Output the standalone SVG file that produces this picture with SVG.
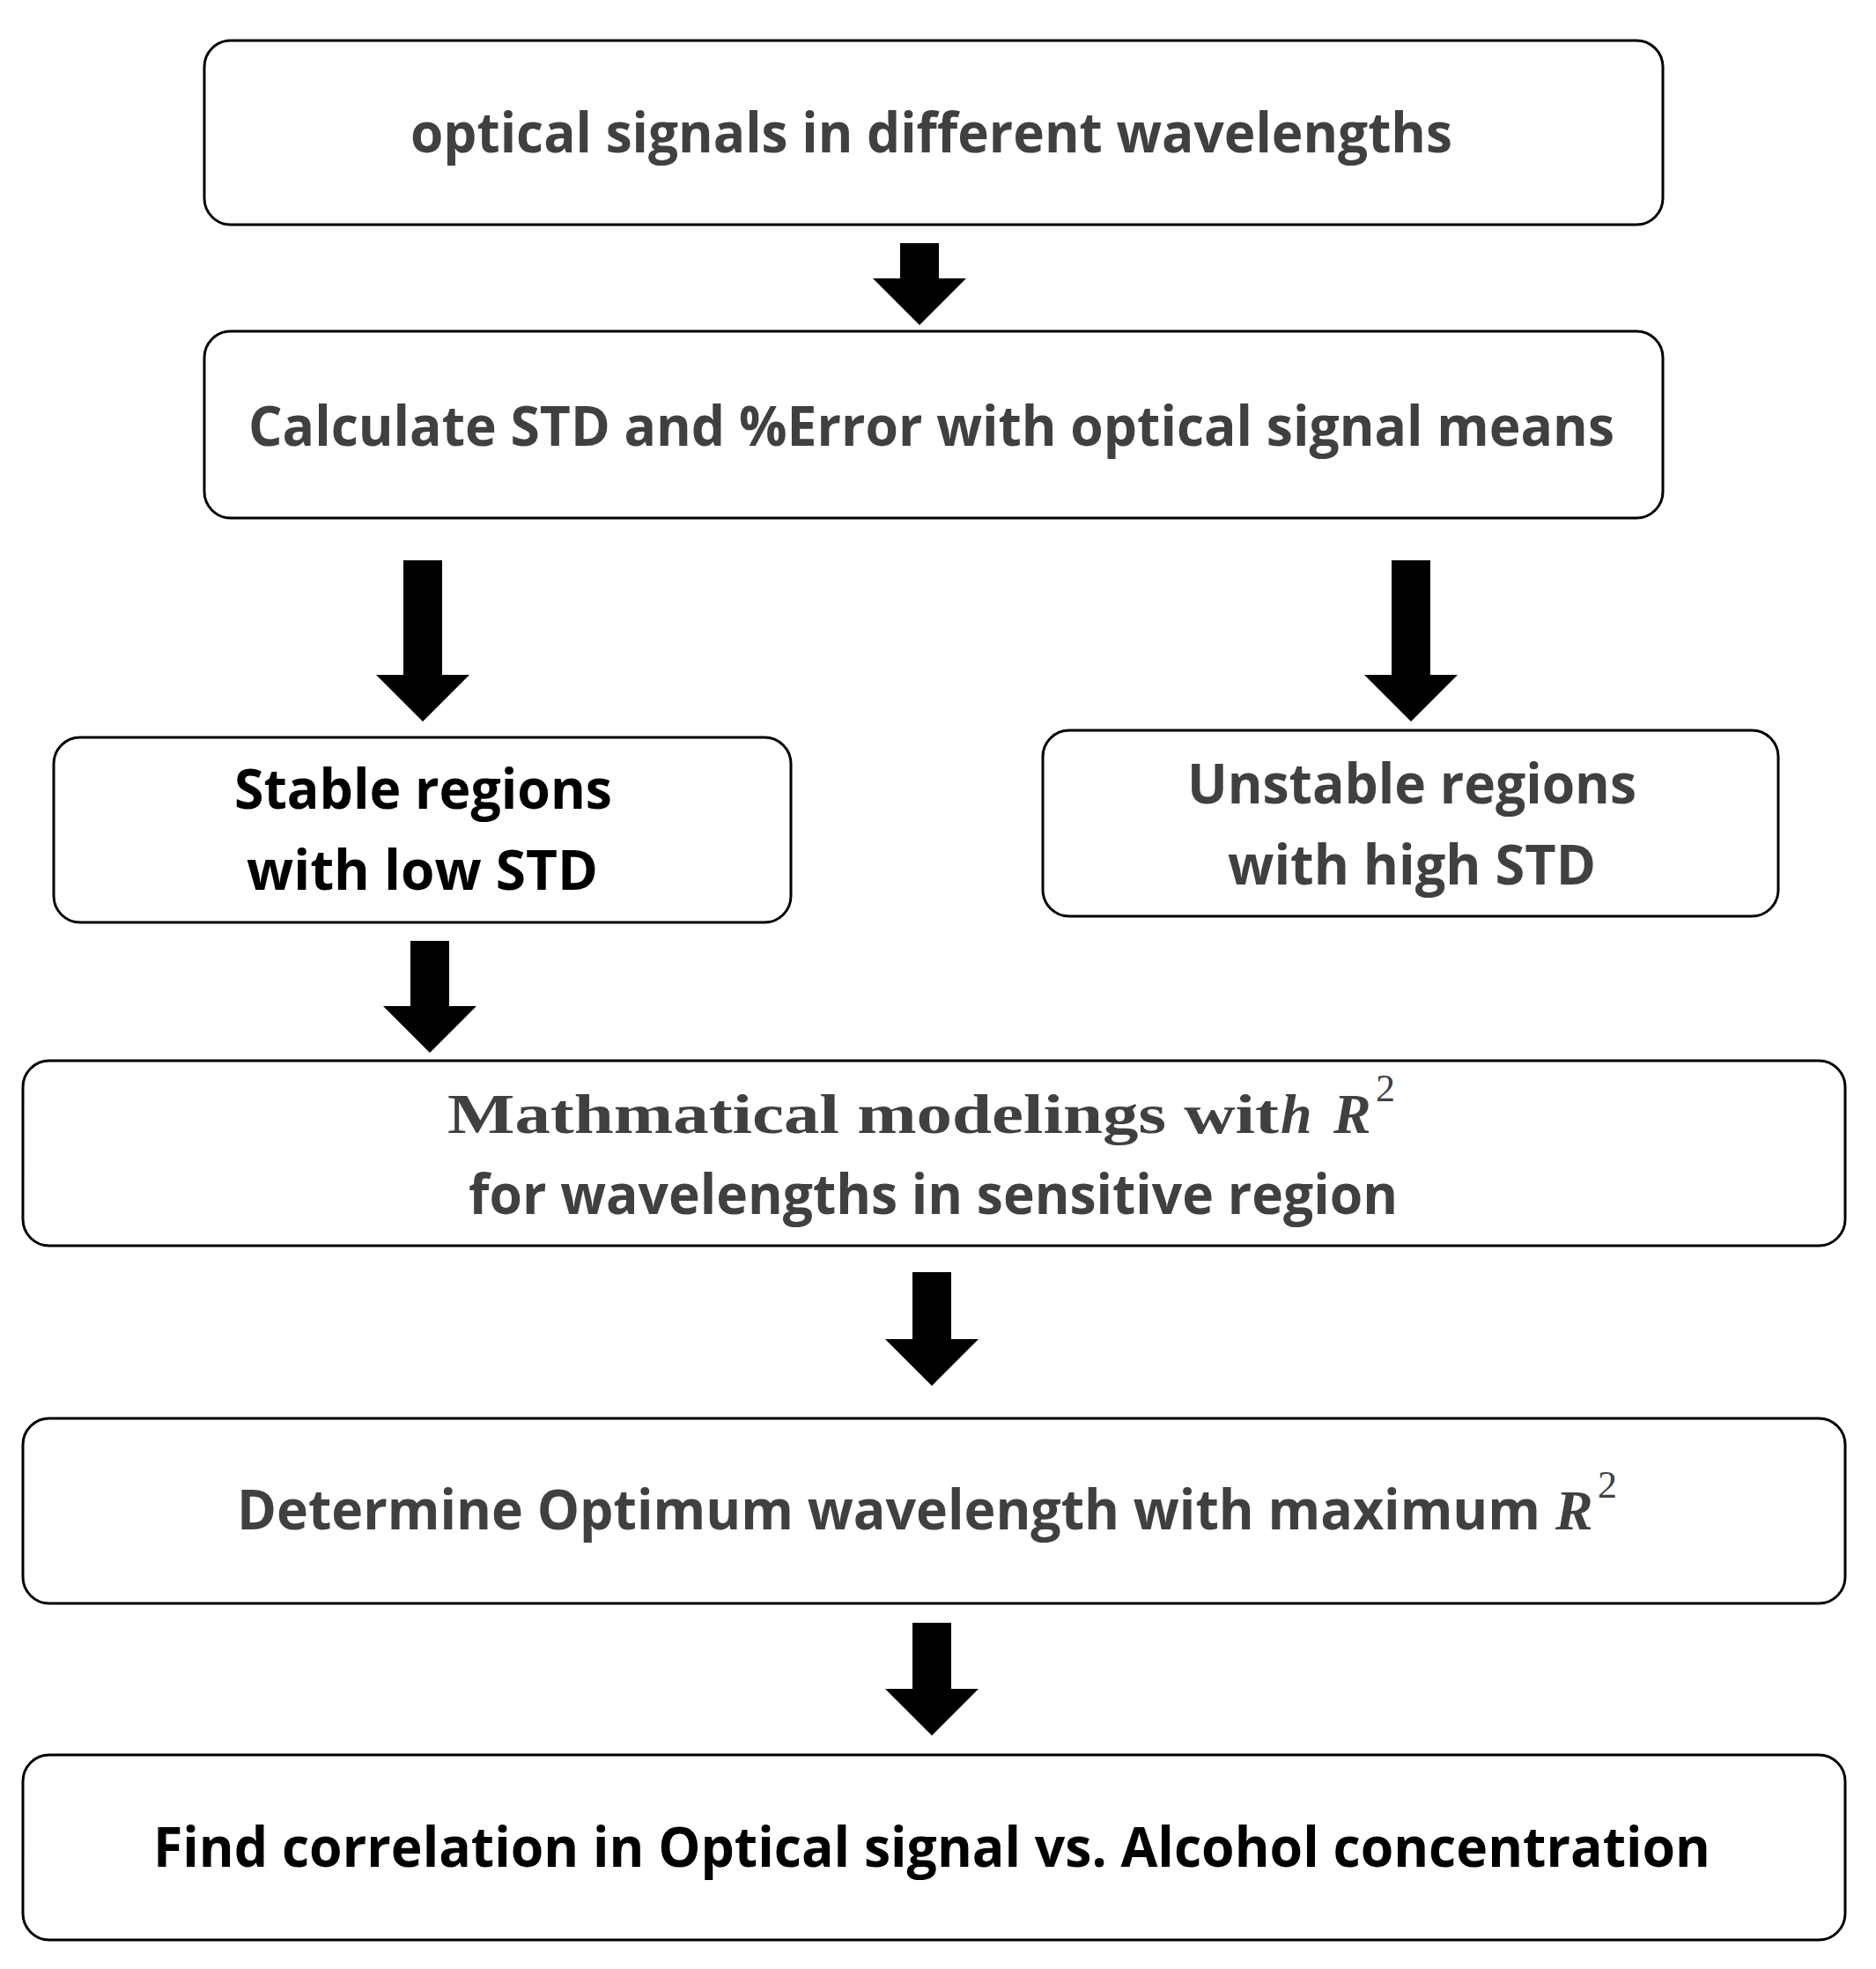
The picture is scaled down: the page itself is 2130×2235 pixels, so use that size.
<svg xmlns="http://www.w3.org/2000/svg" width="2130" height="2235" viewBox="0 0 2130 2235">
<style>
.box{fill:#fff;stroke:#000;stroke-width:3}
.t{font-family:"Open Sans","Liberation Sans",sans-serif;font-weight:bold;font-size:62px;fill:#404040}
.k{fill:#000}
.s{font-family:"Liberation Serif",serif;font-weight:bold;font-size:64px;fill:#404040}
.i{font-family:"Liberation Serif",serif;font-style:italic;font-weight:bold;font-size:64px;fill:#404040}
.sup{font-family:"Liberation Serif",serif;font-size:44px;fill:#404040}
.a{fill:#000}
</style>
<rect width="2130" height="2235" fill="#fff"/>
<g id="connectors">
<path class="a" d="M1022 276h44v40h31l-53 53l-53-53h31z"/>
<path class="a" d="M458 636h44v130h31l-53 53l-53-53h31z"/>
<path class="a" d="M1580 636h44v130h31l-53 53l-53-53h31z"/>
<path class="a" d="M466 1068h44v74h31l-53 53l-53-53h31z"/>
<path class="a" d="M1036 1444h44v76h31l-53 53l-53-53h31z"/>
<path class="a" d="M1036 1842h44v75h31l-53 53l-53-53h31z"/>
</g>
<g id="n1"><rect class="box" x="232" y="46" width="1656" height="209" rx="30"/>
<text class="t" x="466" y="173" textLength="1183" lengthAdjust="spacingAndGlyphs">optical signals in different wavelengths</text></g>
<g id="n2"><rect class="box" x="232" y="376" width="1656" height="212" rx="30"/>
<text class="t" x="282" y="506" textLength="1551" lengthAdjust="spacingAndGlyphs">Calculate STD and %Error with optical signal means</text></g>
<g id="n3"><rect class="box" x="61" y="837" width="837" height="210" rx="30"/>
<text class="t k" x="266" y="918" textLength="429" lengthAdjust="spacingAndGlyphs">Stable regions</text>
<text class="t k" x="280" y="1010" textLength="399" lengthAdjust="spacingAndGlyphs">with low STD</text></g>
<g id="n4"><rect class="box" x="1184" y="829" width="835" height="211" rx="30"/>
<text class="t" x="1348" y="912" textLength="510" lengthAdjust="spacingAndGlyphs">Unstable regions</text>
<text class="t" x="1394" y="1004" textLength="418" lengthAdjust="spacingAndGlyphs">with high STD</text></g>
<g id="n5"><rect class="box" x="26" y="1204" width="2069" height="210" rx="30"/>
<text class="s" x="508" y="1286" textLength="944" lengthAdjust="spacingAndGlyphs">Mathmatical modelings wit</text>
<text class="i" x="1454" y="1286">h</text><text class="i" x="1514" y="1286">R</text>
<text class="sup" x="1562" y="1250">2</text>
<text class="t" x="532" y="1378" textLength="1055" lengthAdjust="spacingAndGlyphs">for wavelengths in sensitive region</text></g>
<g id="n6"><rect class="box" x="26" y="1610" width="2069" height="210" rx="30"/>
<text class="t" x="269" y="1736" textLength="1480" lengthAdjust="spacingAndGlyphs">Determine Optimum wavelength with maximum</text>
<text class="i" x="1766" y="1736">R</text><text class="sup" x="1814" y="1700">2</text></g>
<g id="n7"><rect class="box" x="26" y="1992" width="2069" height="210" rx="30"/>
<text class="t k" x="174" y="2119" textLength="1768" lengthAdjust="spacingAndGlyphs">Find correlation in Optical signal vs. Alcohol concentration</text></g>
</svg>
